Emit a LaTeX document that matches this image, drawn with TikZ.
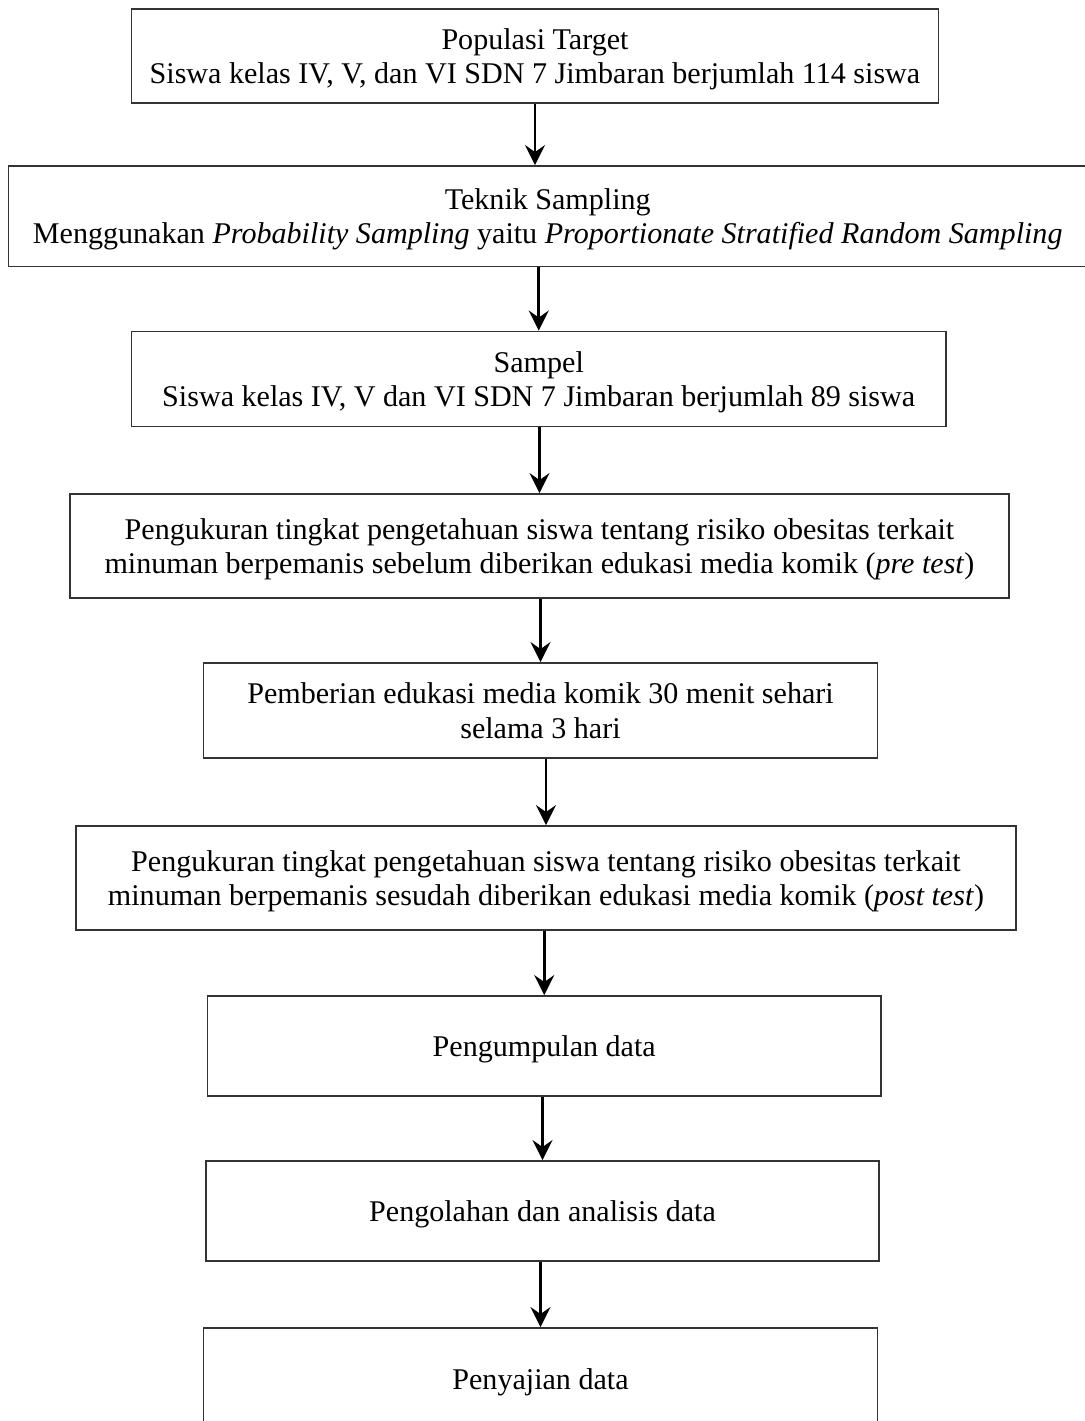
\documentclass[tikz,border=0pt]{standalone}
\usepackage{fontspec}
\setmainfont{Liberation Serif}
\usetikzlibrary{arrows.meta}
\begin{document}
\begin{tikzpicture}[x=0.5pt,y=-0.5pt,
  box/.style={draw=black!80, line width=0.95pt, align=center, inner sep=0pt,
    text depth=-3.75pt, font=\fontsize{15.04}{17.2}\selectfont},
  arr/.style={line width=1.3pt, -{Stealth[length=10pt,width=10pt,inset=3.5pt]}}]
\useasboundingbox (0,0) rectangle (1085,1421);
\clip (0,0) rectangle (1085,1421);
\node[box, minimum width=403.5pt, minimum height=47pt] (b1) at (535,56)
  {Populasi Target\\Siswa kelas IV, V, dan VI SDN 7 Jimbaran berjumlah 114 siswa};
\node[box, minimum width=539.25pt, minimum height=50.25pt] (b2) at (547.75,216.25)
  {Teknik Sampling\\Menggunakan \textit{Probability Sampling} yaitu \textit{Proportionate Stratified Random Sampling}};
\node[box, minimum width=407.25pt, minimum height=47.5pt] (b3) at (538.75,379)
  {Sampel\\Siswa kelas IV, V dan VI SDN 7 Jimbaran berjumlah 89 siswa};
\node[box, minimum width=469.5pt, minimum height=52pt] (b4) at (539.5,546)
  {Pengukuran tingkat pengetahuan siswa tentang risiko obesitas terkait\\minuman berpemanis sebelum diberikan edukasi media komik (\textit{pre test})};
\node[box, minimum width=337pt, minimum height=47.5pt] (b5) at (540.5,710.5)
  {Pemberian edukasi media komik 30 menit sehari\\selama 3 hari};
\node[box, minimum width=470pt, minimum height=52pt] (b6) at (546,878)
  {Pengukuran tingkat pengetahuan siswa tentang risiko obesitas terkait\\minuman berpemanis sesudah diberikan edukasi media komik (\textit{post test})};
\node[box, minimum width=336.75pt, minimum height=50pt] (b7) at (544.25,1046)
  {Pengumpulan data};
\node[box, minimum width=336.5pt, minimum height=50pt] (b8) at (542.5,1211)
  {Pengolahan dan analisis data};
\node[box, minimum width=337pt, minimum height=51pt] (b9) at (540.5,1379)
  {Penyajian data};
\draw[arr] (b1.south) -- (b1.south |- b2.north);
\draw[arr] (b2.south -| b3.north) -- (b3.north);
\draw[arr] (b3.south -| b4.north) -- (b4.north);
\draw[arr] (b4.south -| b5.north) -- (b5.north);
\draw[arr] (b5.south -| b6.north) -- (b6.north);
\draw[arr] (b6.south -| b7.north) -- (b7.north);
\draw[arr] (b7.south -| b8.north) -- (b8.north);
\draw[arr] (b8.south -| b9.north) -- (b9.north);
\end{tikzpicture}
\end{document}
